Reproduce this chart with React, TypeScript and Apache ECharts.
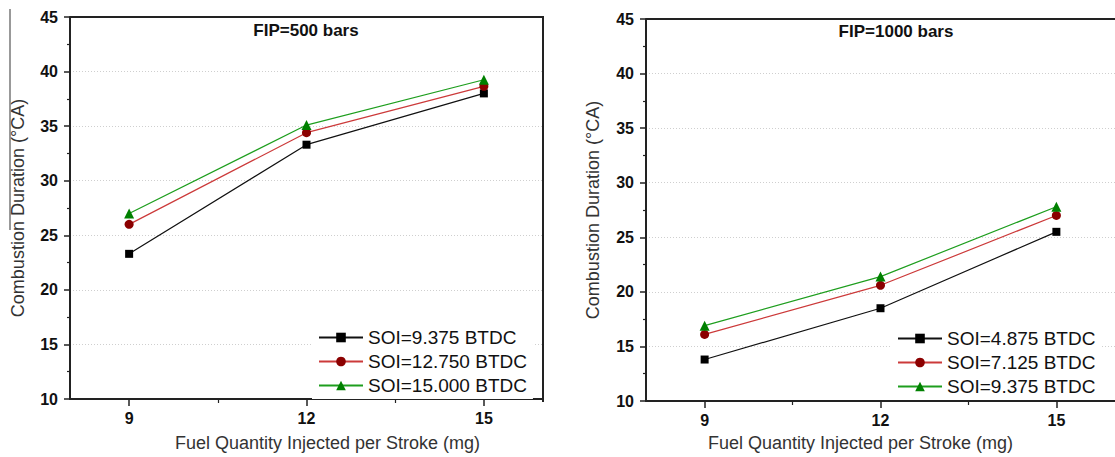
import React, { useEffect, useRef } from "react";
import * as echarts from "echarts";

const xTicks = [9, 12, 15];
const xMinorTicks = [10.5, 13.5];
const xValues = [9, 12, 15];

const leftTitle = "FIP=500 bars";
const rightTitle = "FIP=1000 bars";
const xName = "Fuel Quantity Injected per Stroke (mg)";
const yName = "Combustion Duration (°CA)";

const leftNames = ["SOI=9.375 BTDC", "SOI=12.750 BTDC", "SOI=15.000 BTDC"];
const leftBlack = [23.3, 33.3, 38.0];
const leftRed = [26.0, 34.4, 38.65];
const leftGreen = [27.0, 35.1, 39.25];

const rightNames = ["SOI=4.875 BTDC", "SOI=7.125 BTDC", "SOI=9.375 BTDC"];
const rightBlack = [13.8, 18.5, 25.5];
const rightRed = [16.1, 20.6, 27.0];
const rightGreen = [16.9, 21.4, 27.8];

const FONT = "Liberation Sans, Arial, sans-serif";

const styles = [
  { line: "#111111", marker: "#000000", symbol: "rect", size: 8 },
  { line: "#cc3a3a", marker: "#8b0000", symbol: "circle", size: 9 },
  { line: "#1e9e1e", marker: "#008000", symbol: "triangle", size: 10 },
];

const G1 = { left: 70, top: 17, width: 473, height: 385 };
const G2 = { left: 646, top: 19, width: 478, height: 384 };

function makeSeries(prefix: string, names: string[], data: number[][], axisIndex: number) {
  return names.map((n, i) => ({
    type: "line",
    name: prefix + "#" + n,
    xAxisIndex: axisIndex,
    yAxisIndex: axisIndex / 2,
    data: xValues.map((x, j) => [x, data[i][j]]),
    symbol: styles[i].symbol,
    symbolSize: styles[i].size,
    lineStyle: { color: styles[i].line, width: 1.2 },
    itemStyle: { color: styles[i].marker },
    z: 3 + i,
  }));
}

function xAxes(grid: number, nameGap: number, namePad: number[]) {
  return [
    {
      type: "value",
      gridIndex: grid,
      min: 8,
      max: 16,
      position: "bottom",
      axisLine: { show: true, lineStyle: { color: "#222", width: 2 } },
      axisTick: { show: true, customValues: xTicks, length: 7, lineStyle: { color: "#222", width: 1.5 } },
      axisLabel: {
        customValues: xTicks,
        margin: 11,
        fontSize: 16,
        fontWeight: "bold",
        color: "#111",
        fontFamily: FONT,
      },
      splitLine: { show: false },
      name: xName,
      nameLocation: "middle",
      nameGap: nameGap,
      nameTextStyle: { fontSize: 18, color: "#333", fontFamily: FONT, padding: namePad },
    },
    {
      type: "value",
      gridIndex: grid,
      min: 8,
      max: 16,
      position: "bottom",
      offset: 0,
      axisLine: { show: false },
      axisTick: { show: true, customValues: xMinorTicks, length: 4, lineStyle: { color: "#222", width: 1.2 } },
      axisLabel: { show: false },
      splitLine: { show: false },
    },
  ];
}

function yAxis(grid: number, nameGap: number) {
  return {
    type: "value",
    gridIndex: grid,
    min: 10,
    max: 45,
    interval: 5,
    axisLine: { show: true, lineStyle: { color: "#222", width: 2 } },
    axisTick: { show: true, length: 6, lineStyle: { color: "#222", width: 1.5 } },
    minorTick: { show: true, splitNumber: 2, length: 3, lineStyle: { color: "#222", width: 1.2 } },
    axisLabel: { margin: 12, fontSize: 16, fontWeight: "bold", color: "#111", fontFamily: FONT },
    splitLine: {
      show: true,
      showMinLine: false,
      showMaxLine: false,
      lineStyle: { color: "#cfcfcf", type: [1, 2], width: 1 },
    },
    name: yName,
    nameLocation: "middle",
    nameGap: nameGap,
    nameTextStyle: { fontSize: 18, color: "#333", fontFamily: FONT },
  };
}

function legend(prefix: string, names: string[], left: number, top: number) {
  return {
    orient: "vertical",
    left,
    top,
    data: names.map((n) => prefix + "#" + n),
    formatter: (name: string) => name.split("#")[1],
    itemWidth: 44,
    itemHeight: 12,
    itemGap: 5,
    padding: [4, 6, 4, 6],
    backgroundColor: "#ffffff",
    selectedMode: false,
    textStyle: { fontSize: 19, lineHeight: 19, color: "#111", fontFamily: FONT, padding: [0, 0, 0, 0] },
  };
}

function frame(g: { left: number; top: number; width: number; height: number }) {
  return {
    type: "polyline",
    z: 10,
    silent: true,
    shape: {
      points: [
        [g.left, g.top],
        [g.left + g.width, g.top],
        [g.left + g.width, g.top + g.height],
      ],
    },
    style: { fill: "none", stroke: "#222", lineWidth: 2 },
  };
}

export default function App() {
  const ref = useRef<HTMLDivElement>(null);
  useEffect(() => {
    if (!ref.current) return;
    const chart = echarts.init(ref.current, null, { renderer: "svg" });
    const option: any = {
      animation: false,
      backgroundColor: "#ffffff",
      grid: [
        { ...G1, show: false },
        { ...G2, show: false },
      ],
      xAxis: [...xAxes(0, 35, [0, 0, 0, 42]), ...xAxes(1, 33, [0, 40, 0, 0])],
      yAxis: [yAxis(0, 43), yAxis(1, 44)],
      legend: [legend("L", leftNames, 312, 324), legend("R", rightNames, 891, 325)],
      series: [
        ...makeSeries("L", leftNames, [leftBlack, leftRed, leftGreen], 0),
        ...makeSeries("R", rightNames, [rightBlack, rightRed, rightGreen], 2),
      ],
      graphic: [
        frame(G1),
        frame(G2),
        {
          type: "text",
          x: 306,
          y: 30,
          style: { text: leftTitle, font: "bold 17px " + FONT, fill: "#111", textAlign: "center", textVerticalAlign: "middle" },
        },
        {
          type: "text",
          x: 896,
          y: 31,
          style: { text: rightTitle, font: "bold 17px " + FONT, fill: "#111", textAlign: "center", textVerticalAlign: "middle" },
        },
        {
          type: "line",
          shape: { x1: 10, y1: 9, x2: 10, y2: 230 },
          style: { stroke: "#777", lineWidth: 1.5 },
        },
      ],
    };
    chart.setOption(option);
    return () => chart.dispose();
  }, []);
  return (
    <div
      ref={ref}
      style={{ position: "fixed", left: 0, top: 0, width: 1115, height: 457, background: "#fff" }}
    />
  );
}
